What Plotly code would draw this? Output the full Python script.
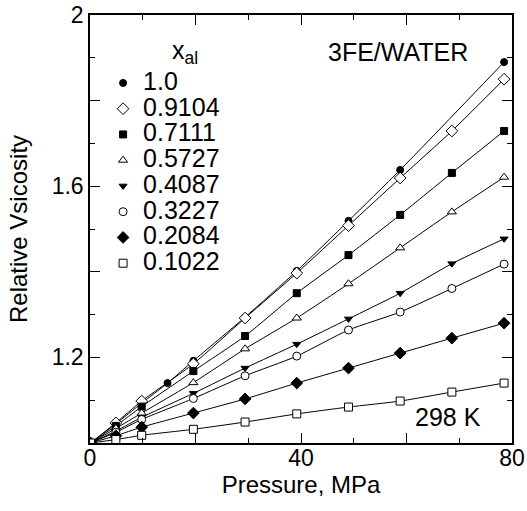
import plotly.graph_objects as go

# ---- data ----
P_std = [0.1, 4.9, 9.8, 19.6, 29.4, 39.2, 49.0, 58.8, 68.6, 78.5]
P_x10 = [0.1, 4.9, 9.8, 14.7, 19.6, 29.4, 39.2, 49.0, 58.8, 78.5]

labels = ["1.0", "0.9104", "0.7111", "0.5727", "0.4087", "0.3227", "0.2084", "0.1022"]

v_100 = [1.000, 1.045, 1.093, 1.140, 1.192, 1.294, 1.402, 1.519, 1.638, 1.890]
v_091 = [1.000, 1.047, 1.098, 1.185, 1.292, 1.397, 1.508, 1.619, 1.729, 1.850]
v_071 = [1.000, 1.040, 1.085, 1.168, 1.250, 1.350, 1.439, 1.533, 1.631, 1.729]
v_057 = [1.000, 1.034, 1.070, 1.141, 1.220, 1.292, 1.372, 1.456, 1.540, 1.621]
v_041 = [1.000, 1.028, 1.060, 1.116, 1.175, 1.231, 1.290, 1.350, 1.419, 1.477]
v_032 = [1.000, 1.025, 1.055, 1.104, 1.157, 1.203, 1.264, 1.306, 1.361, 1.418]
v_021 = [1.000, 1.017, 1.037, 1.070, 1.103, 1.140, 1.175, 1.210, 1.245, 1.280]
v_010 = [1.000, 1.008, 1.018, 1.032, 1.049, 1.068, 1.084, 1.098, 1.119, 1.140]

series_x = [P_x10, P_std, P_std, P_std, P_std, P_std, P_std, P_std]
series_y = [v_100, v_091, v_071, v_057, v_041, v_032, v_021, v_010]

x_ticks = [0, 20, 40, 60, 80]
x_ticktext = ["0", " ", "40", " ", "80"]
y_ticks = [1.0, 1.2, 1.4, 1.6, 1.8, 2.0]
y_ticktext = [" ", "1.2", " ", "1.6", " ", "2"]

# ---- styles ----
symbols = ["circle", "diamond", "square", "triangle-up", "triangle-down", "circle", "diamond", "square"]
fills = ["black", "white", "black", "white", "black", "white", "black", "white"]
sizes = [7, 9, 7, 8, 7, 8, 9, 8]

FONT = "Liberation Sans, Arial, Helvetica, sans-serif"

fig = go.Figure()
# fitted curves (no legend entries)
for xs, ys in zip(series_x, series_y):
    fig.add_trace(go.Scatter(
        x=xs, y=ys, mode="lines", showlegend=False, hoverinfo="skip",
        line=dict(color="black", width=1, shape="spline", smoothing=0.6),
    ))
# data markers (legend entries)
for lab, xs, ys, sym, fc, sz in zip(labels, series_x, series_y, symbols, fills, sizes):
    fig.add_trace(go.Scatter(
        x=xs, y=ys, mode="markers",
        name=f'<span style="font-size:25px">{lab}</span>',
        marker=dict(symbol=sym, size=sz, color=fc, line=dict(color="black", width=1)),
    ))

axis_common = dict(
    showgrid=False, zeroline=False, showline=True, linecolor="black", linewidth=1.5,
    mirror="ticks", ticks="inside", ticklen=10, tickwidth=1, tickcolor="black",
    tickfont=dict(family=FONT, size=23, color="black"), automargin=False,
    ticklabeloverflow="allow",
)

fig.update_xaxes(
    range=[0, 80], tickmode="array", tickvals=x_ticks, ticktext=x_ticktext,
    minor=dict(dtick=10, ticks="inside", ticklen=5, tickcolor="black", tickwidth=1),
    ticklabelstandoff=-6,
    title=dict(text="Pressure, MPa", font=dict(family=FONT, size=24, color="black"), standoff=0),
    **axis_common,
)
fig.update_yaxes(
    range=[1, 2], tickmode="array", tickvals=y_ticks, ticktext=y_ticktext,
    minor=dict(dtick=0.1, ticks="inside", ticklen=5, tickcolor="black", tickwidth=1),
    title=dict(text="Relative Vsicosity", font=dict(family=FONT, size=24, color="black"), standoff=17),
    **axis_common,
)

fig.add_annotation(x=0.225, y=0.914, xref="paper", yref="paper", text="x<sub>al</sub>",
                   xanchor="center", yanchor="middle", showarrow=False,
                   font=dict(family=FONT, size=25, color="black"))
fig.add_annotation(x=0.730, y=0.9136, xref="paper", yref="paper", text="3FE/WATER",
                   xanchor="center", yanchor="middle", showarrow=False,
                   font=dict(family=FONT, size=25, color="black"))
fig.add_annotation(x=0.8495, y=0.0596, xref="paper", yref="paper", text="298 K",
                   xanchor="center", yanchor="middle", showarrow=False,
                   font=dict(family=FONT, size=25, color="black"))

fig.update_layout(
    width=527, height=511,
    margin=dict(l=90, r=15, t=15, b=68, autoexpand=False),
    paper_bgcolor="white", plot_bgcolor="white",
    font=dict(family=FONT, color="black"),
    legend=dict(
        x=0.031, y=0.883, xanchor="left", yanchor="top",
        bgcolor="rgba(0,0,0,0)", borderwidth=0,
        font=dict(family=FONT, size=17.5, color="black"),
        tracegroupgap=0,
    ),
)

fig.write_html("out.html", config={"displayModeBar": False},
               post_script="document.body.style.margin='0px';")
